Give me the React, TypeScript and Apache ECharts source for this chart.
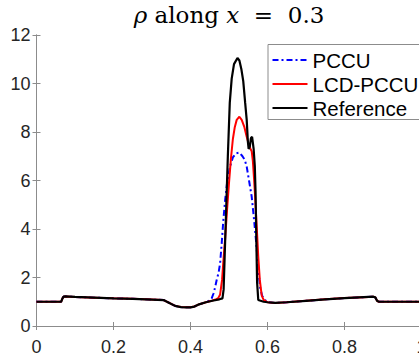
import React, { useEffect, useRef } from "react";
import * as echarts from "echarts";

// Shared flat parts of the profile (all three solutions coincide there)
const leftX = [0, 0.064, 0.067, 0.07, 0.075, 0.1, 0.15, 0.2, 0.25, 0.3, 0.33, 0.345, 0.36, 0.375, 0.39, 0.4, 0.41, 0.42, 0.44];
const leftY = [1.0, 1.0, 1.12, 1.21, 1.22, 1.2, 1.17, 1.14, 1.12, 1.09, 1.07, 0.95, 0.83, 0.78, 0.77, 0.77, 0.8, 0.88, 0.98];
const rightX = [0.6, 0.62, 0.65, 0.7, 0.75, 0.8, 0.85, 0.875, 0.88, 0.885, 0.89, 1.0];
const rightY = [0.98, 0.95, 0.98, 1.04, 1.1, 1.15, 1.19, 1.21, 1.18, 1.03, 1.0, 1.0];

// Central peak region, per solution
const pccuX = [0.45, 0.455, 0.46, 0.464, 0.468, 0.473, 0.477, 0.481, 0.485, 0.49, 0.495, 0.5026, 0.51, 0.518, 0.527, 0.535, 0.541, 0.546, 0.552, 0.559, 0.565, 0.57, 0.575, 0.5805, 0.586, 0.5935];
const pccuY = [1.05, 1.14, 1.35, 1.6, 1.9, 2.2, 2.6, 3.4, 4.3, 5.2, 5.9, 6.57, 6.95, 7.12, 7.15, 7.0, 6.85, 6.57, 6.0, 5.33, 4.4, 3.55, 2.6, 1.62, 1.25, 1.07];

const lcdX = [0.455, 0.465, 0.472, 0.477, 0.482, 0.486, 0.49, 0.495, 0.5, 0.505, 0.51, 0.515, 0.52, 0.527, 0.533, 0.54, 0.546, 0.552, 0.556, 0.559, 0.562, 0.565, 0.568, 0.572, 0.576, 0.58, 0.585, 0.59];
const lcdY = [1.04, 1.09, 1.15, 1.3, 1.9, 2.8, 3.6, 4.8, 5.9, 6.9, 7.7, 8.2, 8.5, 8.63, 8.5, 8.2, 7.8, 7.45, 7.3, 7.2, 6.8, 6.1, 5.3, 4.1, 2.86, 1.9, 1.25, 1.08];

const refX = [0.46, 0.475, 0.483, 0.486, 0.489, 0.493, 0.497, 0.502, 0.507, 0.513, 0.522, 0.527, 0.532, 0.537, 0.542, 0.546, 0.549, 0.551, 0.554, 0.557, 0.56, 0.564, 0.567, 0.569, 0.571, 0.573, 0.576, 0.59];
const refY = [1.05, 1.1, 1.14, 1.5, 3.0, 5.0, 7.0, 9.2, 10.2, 10.8, 11.05, 10.95, 10.6, 10.1, 9.2, 8.5, 7.6, 7.3, 7.4, 7.75, 7.8, 7.3, 6.6, 5.5, 3.5, 1.8, 1.07, 1.0];

const xTicks = [0, 0.2, 0.4, 0.6, 0.8, 1];
const yTicks = [0, 2, 4, 6, 8, 10, 12];
const seriesNames = ["PCCU", "LCD-PCCU", "Reference"];

function build(px: number[], py: number[]) {
  const pts: number[][] = [];
  leftX.forEach((x, i) => pts.push([x, leftY[i]]));
  px.forEach((x, i) => pts.push([x, py[i]]));
  rightX.forEach((x, i) => pts.push([x, rightY[i]]));
  return pts;
}

export default function App() {
  const ref = useRef<HTMLDivElement>(null);
  useEffect(() => {
    if (!ref.current) return;
    const chart = echarts.init(ref.current, undefined, { renderer: "svg" });
    const axisColor = "#8c8c8c";
    const labelColor = "#262626";
    const font = "'Liberation Sans', Arial, Helvetica, sans-serif";
    const serif = "'DejaVu Serif', serif";
    chart.setOption({
      animation: false,
      backgroundColor: "#ffffff",
      graphic: [
        {
          type: "text",
          x: 229,
          y: 15,
          style: {
            text: "{i|ρ}{r| along }{i|x}{r|  =  0.3}",
            textAlign: "center",
            textVerticalAlign: "middle",
            fill: "#000",
            rich: {
              i: { fontFamily: serif, fontSize: 23, fontStyle: "italic", fill: "#000" },
              r: { fontFamily: serif, fontSize: 23, fill: "#000" },
            },
          },
        },
      ],
      grid: {
        left: 36.5,
        top: 35,
        width: 385,
        height: 291,
        containLabel: false,
        outerBoundsMode: "none",
      },
      legend: {
        data: seriesNames,
        orient: "vertical",
        left: 268,
        top: 44.5,
        padding: [5, 4, 1, 3.5],
        itemWidth: 35,
        itemHeight: 14,
        itemGap: 3,
        borderColor: axisColor,
        borderWidth: 1,
        backgroundColor: "#fff",
        itemStyle: { opacity: 0 },
        textStyle: { fontFamily: font, fontSize: 20.5, color: "#000", lineHeight: 21 },
      },
      xAxis: [
        {
          type: "value",
          min: xTicks[0],
          max: xTicks[xTicks.length - 1],
          interval: 0.2,
          axisLine: { show: true, lineStyle: { color: axisColor, width: 1 } },
          axisTick: { show: true, inside: true, length: 4, lineStyle: { color: axisColor } },
          axisLabel: {
            show: true,
            margin: 12,
            color: labelColor,
            fontFamily: font,
            fontSize: 18,
            formatter: (v: number) => String(+v.toFixed(1)),
          },
          splitLine: { show: false },
        },
        {
          type: "value",
          position: "top",
          min: xTicks[0],
          max: xTicks[xTicks.length - 1],
          interval: 0.2,
          axisLine: { show: true, lineStyle: { color: axisColor, width: 1 } },
          axisTick: { show: true, inside: true, length: 4, lineStyle: { color: axisColor } },
          axisLabel: { show: false },
          splitLine: { show: false },
        },
      ],
      yAxis: [
        {
          type: "value",
          min: yTicks[0],
          max: yTicks[yTicks.length - 1],
          interval: 2,
          axisLine: { show: true, lineStyle: { color: axisColor, width: 1 } },
          axisTick: { show: true, inside: true, length: 4, lineStyle: { color: axisColor } },
          axisLabel: { show: true, margin: 6, color: labelColor, fontFamily: font, fontSize: 18 },
          splitLine: { show: false },
        },
        {
          type: "value",
          position: "right",
          min: yTicks[0],
          max: yTicks[yTicks.length - 1],
          interval: 2,
          axisLine: { show: true, lineStyle: { color: axisColor, width: 1 } },
          axisTick: { show: true, inside: true, length: 4, lineStyle: { color: axisColor } },
          axisLabel: { show: false },
          splitLine: { show: false },
        },
      ],
      series: [
        {
          name: seriesNames[0],
          type: "line",
          data: build(pccuX, pccuY),
          showSymbol: false,
          symbol: "none",
          lineStyle: { color: "#0000ff", width: 2, type: [6, 3, 2, 3] },
          itemStyle: { color: "#0000ff" },
          z: 2,
        },
        {
          name: seriesNames[1],
          type: "line",
          data: build(lcdX, lcdY),
          showSymbol: false,
          symbol: "none",
          lineStyle: { color: "#ff0000", width: 2 },
          itemStyle: { color: "#ff0000" },
          z: 3,
        },
        {
          name: seriesNames[2],
          type: "line",
          data: build(refX, refY),
          showSymbol: false,
          symbol: "none",
          lineStyle: { color: "#000000", width: 2.2 },
          itemStyle: { color: "#000000" },
          z: 4,
        },
      ],
    });
    return () => chart.dispose();
  }, []);
  return (
    <div
      ref={ref}
      style={{ position: "absolute", left: 0, top: 0, width: 419, height: 360 }}
    />
  );
}
